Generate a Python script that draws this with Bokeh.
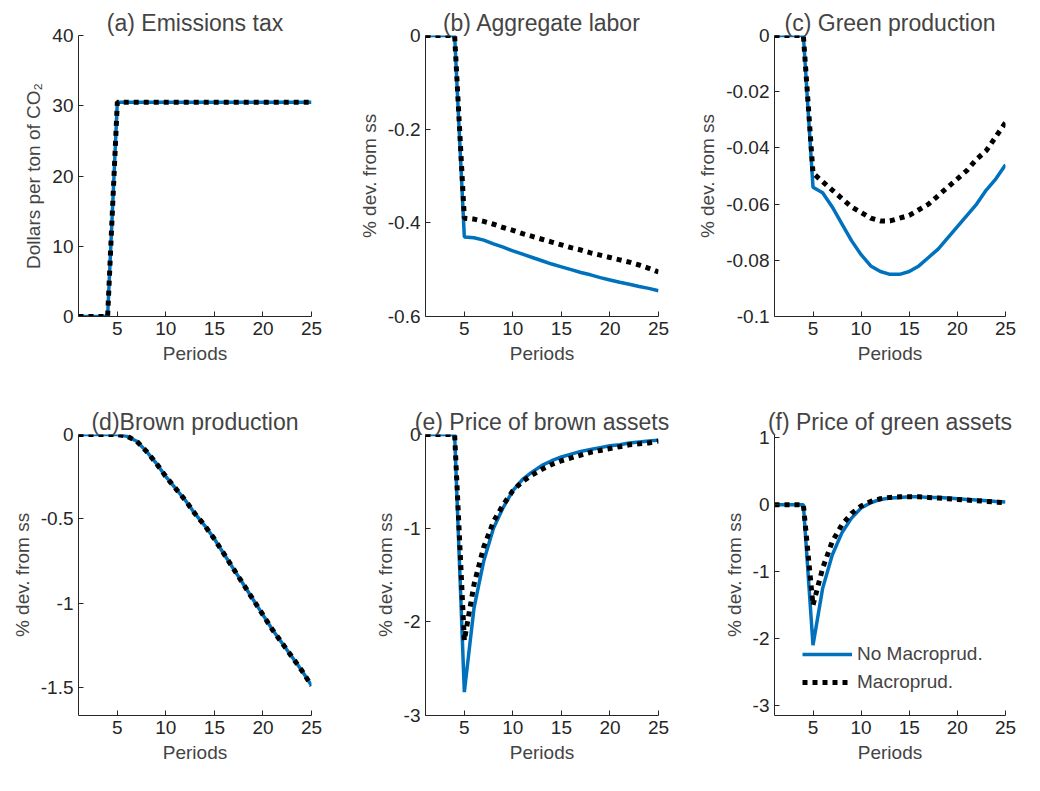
from bokeh.plotting import figure
from bokeh.layouts import gridplot
from bokeh.models import Range1d, Legend, LegendItem, CustomJSTickFormatter
from bokeh.embed import file_html
from bokeh.resources import INLINE

periods = list(range(1, 26))
zeros4 = [0, 0, 0, 0]

tax = zeros4 + [30.5] * 21

labor_no = zeros4 + [-0.43, -0.432, -0.437, -0.445, -0.452, -0.46, -0.467, -0.474, -0.481, -0.488,
                     -0.494, -0.5, -0.506, -0.511, -0.517, -0.522, -0.527, -0.531, -0.536, -0.54, -0.545]
labor_mp = zeros4 + [-0.39, -0.392, -0.397, -0.403, -0.41, -0.416, -0.423, -0.429, -0.435, -0.441,
                     -0.447, -0.453, -0.458, -0.464, -0.469, -0.474, -0.479, -0.484, -0.49, -0.497, -0.505]

green_no = zeros4 + [-0.054, -0.056, -0.061, -0.067, -0.073, -0.078, -0.082, -0.084, -0.085, -0.085,
                     -0.084, -0.082, -0.079, -0.076, -0.072, -0.068, -0.064, -0.06, -0.055, -0.051, -0.046]
green_mp = zeros4 + [-0.049, -0.052, -0.055, -0.058, -0.061, -0.063, -0.065, -0.066, -0.066, -0.065,
                     -0.064, -0.062, -0.06, -0.057, -0.054, -0.051, -0.048, -0.044, -0.041, -0.036, -0.031]

brown_no = zeros4 + [0, -0.01, -0.04, -0.1, -0.17, -0.25, -0.32, -0.39, -0.47, -0.54,
                     -0.62, -0.71, -0.8, -0.89, -0.98, -1.07, -1.16, -1.24, -1.32, -1.4, -1.49]
brown_mp = list(brown_no)

pbrown_no = zeros4 + [-2.75, -1.85, -1.35, -1.0, -0.78, -0.6, -0.48, -0.4, -0.33, -0.28,
                      -0.24, -0.21, -0.18, -0.16, -0.14, -0.12, -0.11, -0.09, -0.08, -0.07, -0.06]
pbrown_mp = zeros4 + [-2.2, -1.6, -1.2, -0.93, -0.75, -0.6, -0.5, -0.43, -0.37, -0.32,
                      -0.28, -0.25, -0.22, -0.19, -0.17, -0.15, -0.13, -0.11, -0.1, -0.09, -0.07]

pgreen_no = zeros4 + [-2.1, -1.25, -0.75, -0.42, -0.2, -0.05, 0.03, 0.08, 0.1, 0.11,
                      0.12, 0.12, 0.11, 0.11, 0.1, 0.09, 0.08, 0.07, 0.06, 0.05, 0.04]
pgreen_mp = zeros4 + [-1.5, -0.95, -0.55, -0.3, -0.13, -0.02, 0.05, 0.09, 0.11, 0.12,
                      0.12, 0.12, 0.11, 0.1, 0.09, 0.08, 0.07, 0.06, 0.05, 0.04, 0.03]

BLUE = "#0072BD"
FONT = "Liberation Sans"
plain = CustomJSTickFormatter(code="return String(Math.round(tick * 1000) / 1000);")


def panel(title, ylabel, ylim, yticks, series, row):
    p = figure(width=347, height=390, output_backend="svg", toolbar_location=None,
               x_range=Range1d(1, 25), y_range=Range1d(*ylim))
    p.min_border_left = 78
    p.min_border_right = 36
    p.min_border_top = 35 if row == 0 else 44
    p.min_border_bottom = 74 if row == 0 else 65
    p.title.text = title
    p.title.align = "center"
    p.title.text_font = FONT
    p.title.text_font_style = "normal"
    p.title.text_font_size = "23px"
    p.title.offset = 0
    p.title.standoff = 0
    p.outline_line_color = None
    p.grid.visible = False
    p.xaxis.ticker = [5, 10, 15, 20, 25]
    p.yaxis.ticker = yticks
    p.xaxis.axis_label = "Periods"
    p.yaxis.axis_label = ylabel
    for ax in (p.xaxis, p.yaxis):
        ax.formatter = plain
        ax.axis_label_text_font = FONT
        ax.axis_label_text_font_style = "normal"
        ax.axis_label_text_font_size = "19px"
        ax.major_label_text_font = FONT
        ax.major_label_text_font_size = "19px"
        ax.major_label_text_color = "#262626"
        ax.axis_line_color = "#262626"
        ax.major_tick_line_color = "#262626"
        ax.minor_tick_line_color = None
        ax.major_tick_in = 5
        ax.major_tick_out = 0
    renderers = []
    for i, ys in enumerate(series):
        if i == 0:
            r = p.line(periods, ys, line_color=BLUE, line_width=3.5)
        else:
            r = p.line(periods, ys, line_color="black", line_width=5, line_dash="5 5")
        renderers.append(r)
    return p, renderers


pa, _ = panel("(a) Emissions tax", "Dollars per ton of CO\u2082", (0, 40), [0, 10, 20, 30, 40], [tax, tax], 0)
pb, _ = panel("(b) Aggregate labor", "% dev. from ss", (-0.6, 0), [-0.6, -0.4, -0.2, 0], [labor_no, labor_mp], 0)
pc, _ = panel("(c) Green production", "% dev. from ss", (-0.1, 0), [-0.1, -0.08, -0.06, -0.04, -0.02, 0],
              [green_no, green_mp], 0)
pd, _ = panel("(d)Brown production", "% dev. from ss", (-1.667, 0), [-1.5, -1, -0.5, 0], [brown_no, brown_mp], 1)
pe, _ = panel("(e) Price of brown assets", "% dev. from ss", (-3, 0), [-3, -2, -1, 0], [pbrown_no, pbrown_mp], 1)
pf, rf = panel("(f) Price of green assets", "% dev. from ss", (-3.15, 1.05), [-3, -2, -1, 0, 1],
               [pgreen_no, pgreen_mp], 1)

legend = Legend(items=[LegendItem(label="No Macroprud.", renderers=[rf[0]]),
                       LegendItem(label="Macroprud.", renderers=[rf[1]])],
                location=(28, 22), border_line_color=None, background_fill_alpha=0,
                label_text_font=FONT, label_text_font_size="19px", glyph_width=50,
                spacing=6, padding=4)
pf.add_layout(legend)

grid = gridplot([[pa, pb, pc], [pd, pe, pf]], toolbar_location=None)
open("out.html", "w").write(file_html(grid, INLINE))
